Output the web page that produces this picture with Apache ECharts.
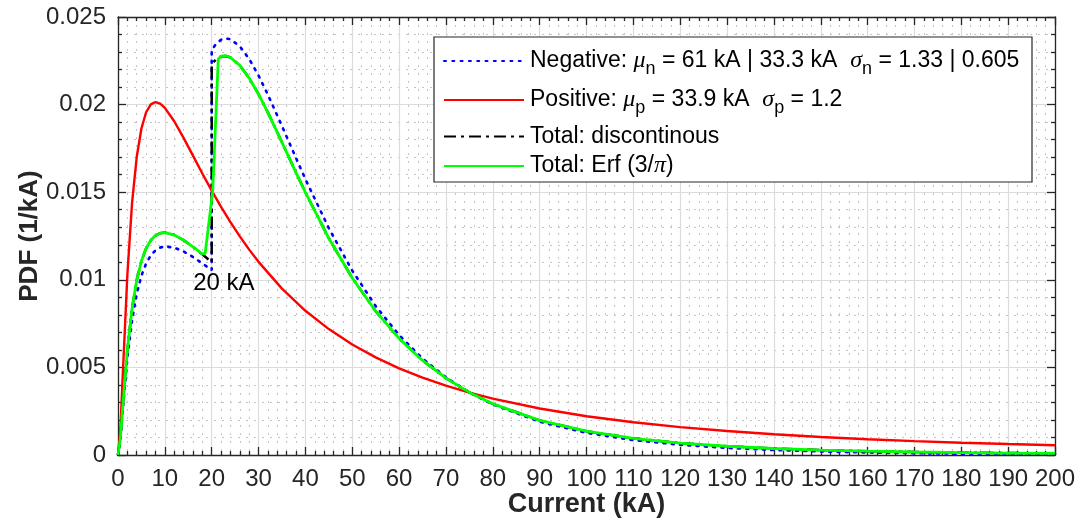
<!DOCTYPE html>
<html>
<head>
<meta charset="utf-8">
<script src="https://cdn.jsdelivr.net/npm/echarts@6/dist/echarts.min.js"></script>
<style>html,body{margin:0;padding:0;background:#fff;}#chart{width:1086px;height:520px;}</style>
</head>
<body>
<div id="chart"></div>
<script>
// ---- data ----
const xPos = [0,0.5,1,2,3,4,5,6,7,8,9,10,12,14,16,18,20,22,24,26,28,30,35,40,45,50,55,60,65,70,75,80,90,100,110,120,130,140,150,160,170,180,190,200];
const yPos = [0,0.001386,0.004465,0.010296,0.014388,0.017020,0.018635,0.019563,0.020016,0.020146,0.020056,0.019814,0.019051,0.018100,0.017085,0.016070,0.015091,0.014161,0.013290,0.012478,0.011723,0.011025,0.009495,0.008233,0.007185,0.006309,0.005573,0.004948,0.004415,0.003957,0.003561,0.003217,0.002653,0.002214,0.001868,0.001591,0.001366,0.001181,0.001028,0.000900,0.000793,0.000702,0.000624,0.000557];

const xNeg = [0,0.5,1,2,3,4,5,6,7,8,9,10,12,14,16,18,19,20,20,21,22,23,24,26,28,30,32,35,38,40,45,50,55,60,65,70,75,80,90,100,110,120,130,140,150,160,170,180,190,200];
const yNeg = [0,0.000882,0.002526,0.005522,0.007691,0.009198,0.010232,0.010932,0.011392,0.011678,0.011838,0.011903,0.011839,0.011615,0.011300,0.010938,0.010747,0.010552,0.023115,0.023486,0.023701,0.023778,0.023730,0.023326,0.022602,0.021655,0.020561,0.018777,0.016945,0.015745,0.012946,0.010524,0.008501,0.006846,0.005507,0.004432,0.003573,0.002887,0.001899,0.001264,0.000853,0.000582,0.000403,0.000282,0.000199,0.000142,0.000103,0.0000749,0.0000551,0.0000409];

const xTot = [0,0.5,1,2,3,4,5,6,7,8,9,10,12,14,16,18,19,20,20,21,22,23,24,26,28,30,32,35,38,40,45,50,55,60,65,70,75,80,90,100,110,120,130,140,150,160,170,180,190,200];
const yTot = [0,0.000933,0.002720,0.006000,0.008361,0.009980,0.011073,0.011795,0.012255,0.012525,0.012660,0.012694,0.012560,0.012264,0.011879,0.011451,0.011229,0.011006,0.022313,0.022599,0.022747,0.022772,0.022686,0.022241,0.021514,0.020593,0.019543,0.017849,0.016122,0.014994,0.012370,0.010103,0.008208,0.006656,0.005398,0.004385,0.003572,0.002920,0.001974,0.001359,0.000955,0.000683,0.000500,0.000372,0.000282,0.000218,0.000172,0.000138,0.000112,0.0000925];

const xErf = [0,0.5,1,2,3,4,5,6,7,8,9,10,12,14,16,18,18.6,20.2,21.4,22,23,24,26,28,30,32,35,38,40,45,50,55,60,65,70,75,80,90,100,110,120,130,140,150,160,170,180,190,200];
const yErf = [0,0.000933,0.002720,0.006000,0.008361,0.009980,0.011073,0.011795,0.012255,0.012525,0.012660,0.012694,0.012560,0.012264,0.011879,0.011486,0.011500,0.015000,0.022600,0.022760,0.022790,0.022686,0.022241,0.021514,0.020593,0.019543,0.017849,0.016122,0.014994,0.012370,0.010103,0.008208,0.006656,0.005398,0.004385,0.003572,0.002920,0.001974,0.001359,0.000955,0.000683,0.000500,0.000372,0.000282,0.000218,0.000172,0.000138,0.000112,0.0000925];

const seriesNames = ['Negative','Positive','Total: discontinous','Total: Erf'];
const legendTexts = [
  'Negative: {g|μ}{s|n} = 61 kA | 33.3 kA  {g|σ}{s|n} = 1.33 | 0.605',
  'Positive: {g|μ}{s|p} = 33.9 kA  {g|σ}{s|p} = 1.2',
  'Total: discontinous',
  'Total: Erf (3/{g|π})'
];
const xTicks = {min:0, max:200, interval:10};
const yTicks = {min:0, max:0.025, interval:0.005};
const annotation = {x:22.6, y:0.0098, text:'20 kA'};

// ---- build ----
const pairs = (xs, ys) => xs.map((x,i)=>[x, ys[i]]);
const FONT = "'Liberation Sans', Arial, Helvetica, sans-serif";
const TXT = '#262626';
const chart = echarts.init(document.getElementById('chart'), null, {renderer:'canvas'});

function axisCommon(main){
  return {
    nameMoveOverlap:false,
    axisLine:{show:true, onZero:false, lineStyle:{color:TXT, width:1.3}},
    axisTick:{show:true, inside:true, length:8, lineStyle:{color:TXT, width:1.3}},
    minorTick:{show:true, splitNumber:5, length:4, lineStyle:{color:TXT, width:1.3}},
    axisLabel:{show:main, fontFamily:FONT, fontSize:24, color:TXT, margin:12},
    splitLine:{show:main, lineStyle:{color:'#dcdcdc', width:1.2}},
    minorSplitLine:{show:main, lineStyle:{color:'#c4c4c4', width:1, type:[2,6]}}
  };
}
function xAxisCfg(pos, main){
  return Object.assign({
    type:'value', position:pos, min:xTicks.min, max:xTicks.max, interval:xTicks.interval,
    name: main ? 'Current (kA)' : '', nameLocation:'middle', nameGap:36,
    nameTextStyle:{fontFamily:FONT, fontWeight:'bold', fontSize:27, color:TXT}
  }, axisCommon(main));
}
function yAxisCfg(pos, main){
  return Object.assign({
    type:'value', position:pos, min:yTicks.min, max:yTicks.max, interval:yTicks.interval,
    name: main ? 'PDF (1/kA)' : '', nameLocation:'middle', nameGap:75,
    nameTextStyle:{fontFamily:FONT, fontWeight:'bold', fontSize:26, color:TXT}
  }, axisCommon(main));
}

const rich = {
  g:{fontFamily:"'Liberation Serif', 'Times New Roman', serif", fontStyle:'italic', fontSize:24, color:'#000'},
  s:{fontFamily:FONT, fontSize:18, color:'#000', padding:[17,0,0,0]}
};
const legendTops = [49, 88, 125, 154];
const legends = seriesNames.map((n,i)=>({
  data:[n], left:443, top:legendTops[i], padding:0, itemWidth:80, itemHeight:14, itemGap:0,
  selectedMode:false, z:20,
  itemStyle:{opacity:0},
  formatter: ()=>legendTexts[i],
  textStyle:{fontFamily:FONT, fontSize:23, color:'#000', padding:[0,0,0,1], rich:rich}
}));

const lineBase = {type:'line', showSymbol:false, symbol:'none', smooth:false, animation:false, xAxisIndex:0, yAxisIndex:0};
const option = {
  animation:false,
  backgroundColor:'#fff',
  grid:{left:118, right:31, top:17, bottom:65, containLabel:false, outerBoundsMode:'none'},
  xAxis:[xAxisCfg('bottom', true), xAxisCfg('top', false)],
  yAxis:[yAxisCfg('left', true), yAxisCfg('right', false)],
  legend: legends,
  graphic:[{type:'rect', z:10, shape:{x:434, y:37, width:598, height:145},
    style:{fill:'#fff', stroke:'#262626', lineWidth:1.2}}],
  series:[
    Object.assign({}, lineBase, {name:seriesNames[0], data:pairs(xNeg,yNeg), z:3,
      lineStyle:{color:'#0000ff', width:2.6, type:[2,6.3], cap:'round'}, itemStyle:{color:'#0000ff'}}),
    Object.assign({}, lineBase, {name:seriesNames[1], data:pairs(xPos,yPos), z:4,
      lineStyle:{color:'#ff0000', width:2.4}, itemStyle:{color:'#ff0000'}}),
    Object.assign({}, lineBase, {name:seriesNames[2], data:pairs(xTot,yTot), z:5,
      lineStyle:{color:'#000000', width:2.5, type:[12,5,3,5]}, itemStyle:{color:'#000'}}),
    Object.assign({}, lineBase, {name:seriesNames[3], data:pairs(xErf,yErf), z:6,
      lineStyle:{color:'#00ff00', width:2.8}, itemStyle:{color:'#00ff00'},
      markPoint:{symbol:'circle', symbolSize:0, silent:true, animation:false,
        label:{show:true, formatter:annotation.text, fontFamily:FONT, fontSize:24, color:'#000', position:'inside'},
        data:[{coord:[annotation.x, annotation.y]}]}})
  ]
};
chart.setOption(option);
</script>
</body>
</html>
